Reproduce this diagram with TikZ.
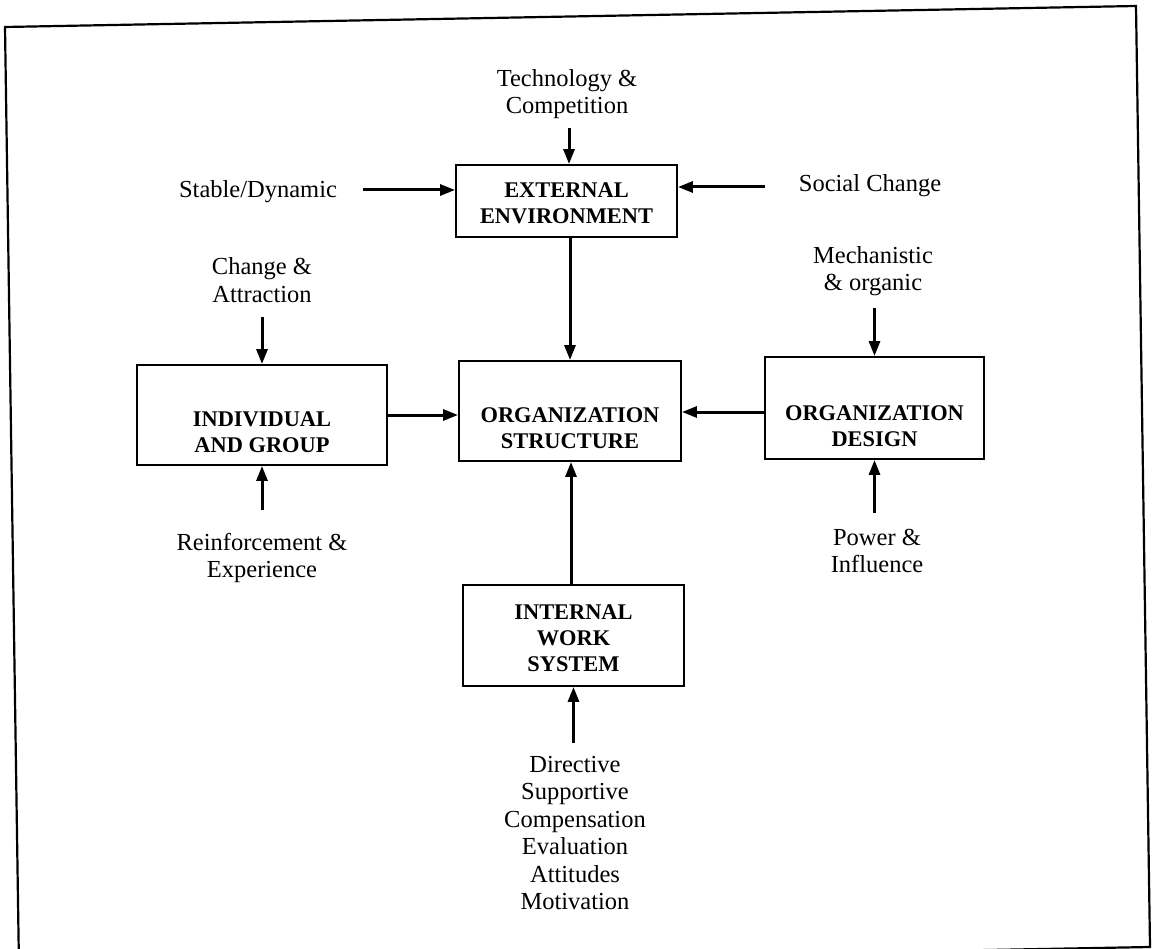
\documentclass[tikz,border=0pt]{standalone}
\usepackage{fontspec}
\setmainfont{Liberation Serif}
\usetikzlibrary{arrows.meta}
\begin{document}
\begin{tikzpicture}[x=1pt,y=-1pt,
  box/.style={draw, line width=1.9pt, inner sep=0pt},
  lbl/.style={font=\fontsize{24.5}{27.5}\selectfont, align=center, inner sep=0pt},
  btxt/.style={font=\fontsize{22.4}{26}\selectfont\bfseries, align=center, inner sep=0pt},
  arr/.style={line width=3pt, -{Triangle[length=15pt,width=11pt]}}]
\useasboundingbox (0,0) rectangle (1158,949);
\clip (0,0) rectangle (1158,949);
% outer frame
\draw[line width=2.2pt, line join=miter] (5,27) -- (1136,6) -- (1150,947) -- (19,968) -- cycle;

% boxes
\node[box, minimum width=221pt, minimum height=72pt] (ext) at (566.5,201) {};
\node[btxt] (extT) at (566.5,203) {EXTERNAL\\ENVIRONMENT};
\node[box, minimum width=222pt, minimum height=100pt] (os) at (570,411) {};
\node[btxt] (osT) at (570,428) {ORGANIZATION\\STRUCTURE};
\node[box, minimum width=250pt, minimum height=100pt] (ig) at (262,415) {};
\node[btxt] (igT) at (262,432) {INDIVIDUAL\\AND GROUP};
\node[box, minimum width=219pt, minimum height=102pt] (od) at (874.5,408) {};
\node[btxt] (odT) at (874.5,426) {ORGANIZATION\\DESIGN};
\node[box, minimum width=221pt, minimum height=101pt] (iw) at (573.5,635.5) {};
\node[btxt] (iwT) at (573.5,638) {INTERNAL\\WORK\\SYSTEM};

% labels
\node[lbl] (tech) at (567,94) {Technology \&\\Competition};
\node[lbl] (sd) at (258,192) {Stable/Dynamic};
\node[lbl] (sc) at (870,186) {Social Change};
\node[lbl] (mo) at (873,271) {Mechanistic\\\& organic};
\node[lbl] (ca) at (262,280) {Change \&\\Attraction};
\node[lbl] (re) at (262,558) {Reinforcement \&\\Experience};
\node[lbl] (pi) at (877,551) {Power \&\\Influence};
\node[lbl] (dir) at (575,833) {Directive\\Supportive\\Compensation\\Evaluation\\Attitudes\\Motivation};

% arrow start points
\coordinate (techA) at (569,128);
\coordinate (sdA) at (363,190);
\coordinate (scA) at (765,187);
\coordinate (moA) at (874.5,308);
\coordinate (caA) at (262,317);
\coordinate (reA) at (262,510);
\coordinate (piA) at (874.5,513);
\coordinate (dirA) at (573.5,743);

% connectors
\draw[arr] (techA) -- (techA |- ext.north);
\draw[arr] (sdA) -- (sdA -| ext.west);
\draw[arr] (scA) -- (scA -| ext.east);
\draw[arr] (ext.south -| os.north) -- (os.north);
\draw[arr] (caA) -- (ig.north);
\draw[arr] (reA) -- (ig.south);
\draw[arr] (ig.east) -- (ig.east -| os.west);
\draw[arr] (moA) -- (od.north);
\draw[arr] (piA) -- (od.south);
\draw[arr] ([yshift=-4pt]od.west) -- ([yshift=-4pt]od.west -| os.east);
\draw[arr] (iw.north -| 571,0) -- (os.south -| 571,0);
\draw[arr] (dirA) -- (iw.south);
\end{tikzpicture}
\end{document}
